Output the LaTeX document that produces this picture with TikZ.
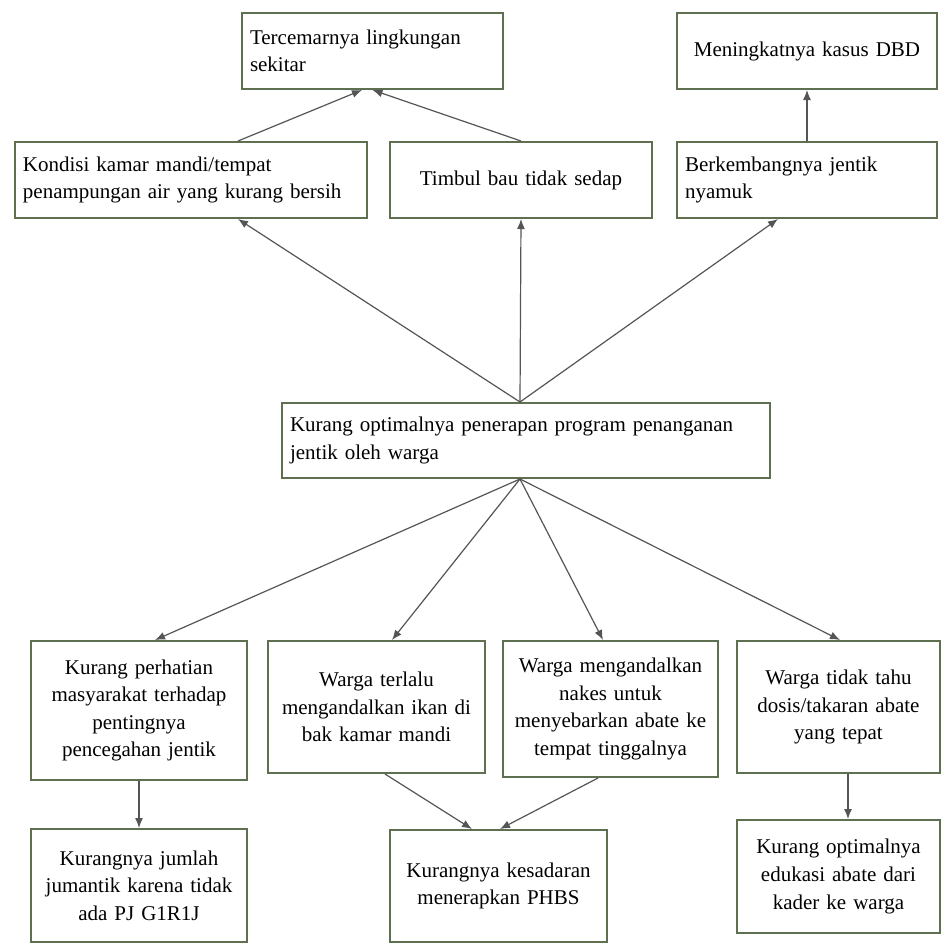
\documentclass[tikz,border=0pt]{standalone}
\usepackage{fontspec}
\setmainfont{Liberation Serif}
\usetikzlibrary{arrows.meta}
\definecolor{boxc}{HTML}{5E7050}
\definecolor{arrc}{HTML}{555555}
\begin{document}
\begin{tikzpicture}[x=0.5pt,y=-0.5pt,
 bx/.style={draw=boxc, line width=1pt, inner xsep=4pt, inner ysep=0pt, font=\fontsize{10.5}{13.8}\selectfont},
 arr/.style={draw=arrc, line width=0.6pt, -{Latex[length=5pt,width=4pt]}}]
\useasboundingbox[fill=white] (0,0) rectangle (944,944);
% top rows
\node[bx, minimum width=130.5pt, text width=122.5pt, minimum height=38pt, align=left] (terc) at (372.5,51) {Tercemarnya lingkungan\\sekitar};
\node[bx, minimum width=130pt, text width=122pt, minimum height=38pt, align=center] (dbd) at (807,51) {Meningkatnya kasus DBD};
\node[bx, minimum width=176pt, text width=168pt, minimum height=38pt, align=left] (kond) at (191,180) {Kondisi kamar mandi/tempat\\penampungan air yang kurang bersih};
\node[bx, minimum width=131pt, text width=123pt, minimum height=38pt, align=center] (timb) at (521,180) {Timbul bau tidak sedap};
\node[bx, minimum width=130pt, text width=122pt, minimum height=38pt, align=left] (berk) at (807,180) {Berkembangnya jentik\\nyamuk};
% middle
\node[bx, minimum width=244pt, text width=236pt, minimum height=37.5pt, align=left] (mid) at (526,440.5) {Kurang optimalnya penerapan program penanganan\\jentik oleh warga};
% bottom rows
\node[bx, minimum width=108pt, text width=100pt, minimum height=69.5pt, align=center] (b1) at (139,710.5) {Kurang perhatian\\masyarakat terhadap\\pentingnya\\pencegahan jentik};
\node[bx, minimum width=108.5pt, text width=100.5pt, minimum height=66pt, align=center] (b2) at (376.5,707) {Warga terlalu\\mengandalkan ikan di\\bak kamar mandi};
\node[bx, minimum width=107.5pt, text width=99.5pt, minimum height=68pt, align=center] (b3) at (610.5,709) {Warga mengandalkan\\nakes untuk\\menyebarkan abate ke\\tempat tinggalnya};
\node[bx, minimum width=101.5pt, text width=93.5pt, minimum height=66pt, align=center] (b4) at (838.5,707) {Warga tidak tahu\\dosis/takaran abate\\yang tepat};
\node[bx, minimum width=108pt, text width=100pt, minimum height=56.5pt, align=center] (b5) at (139,885.5) {Kurangnya jumlah\\jumantik karena tidak\\ada PJ G1R1J};
\node[bx, minimum width=108.5pt, text width=100.5pt, minimum height=56pt, align=center] (b6) at (498.5,886) {Kurangnya kesadaran\\menerapkan PHBS};
\node[bx, minimum width=101.5pt, text width=93.5pt, minimum height=56.5pt, align=center] (b7) at (838.5,876.5) {Kurang optimalnya\\edukasi abate dari\\kader ke warga};
% arrows
\draw[arr] ([xshift=23.5pt]kond.north) -- ([xshift=-5.25pt]terc.south);
\draw[arr] (timb.north) -- ([xshift=0pt]terc.south);
\draw[arr] (berk.north) -- (dbd.south);
\draw[arr] ([xshift=-3pt]mid.north) -- ([xshift=23.5pt]kond.south);
\draw[arr] ([xshift=-3pt]mid.north) -- (timb.south);
\draw[arr] ([xshift=-3pt]mid.north) -- ([xshift=-14.5pt]berk.south);
\draw[arr] ([xshift=-3pt]mid.south) -- ([xshift=8pt]b1.north);
\draw[arr] ([xshift=-3pt]mid.south) -- ([xshift=7.75pt]b2.north);
\draw[arr] ([xshift=-3pt]mid.south) -- ([xshift=-3.75pt]b3.north);
\draw[arr] ([xshift=-3pt]mid.south) -- ([xshift=0.75pt]b4.north);
\draw[arr] (b1.south) -- (b5.north);
\draw[arr] ([xshift=4.25pt]b2.south) -- ([xshift=-13.25pt]b6.north);
\draw[arr] ([xshift=-6.25pt]b3.south) -- ([xshift=0.75pt]b6.north);
\draw[arr] ([xshift=4.75pt]b4.south) -- ([xshift=4.75pt]b7.north);
\end{tikzpicture}
\end{document}
